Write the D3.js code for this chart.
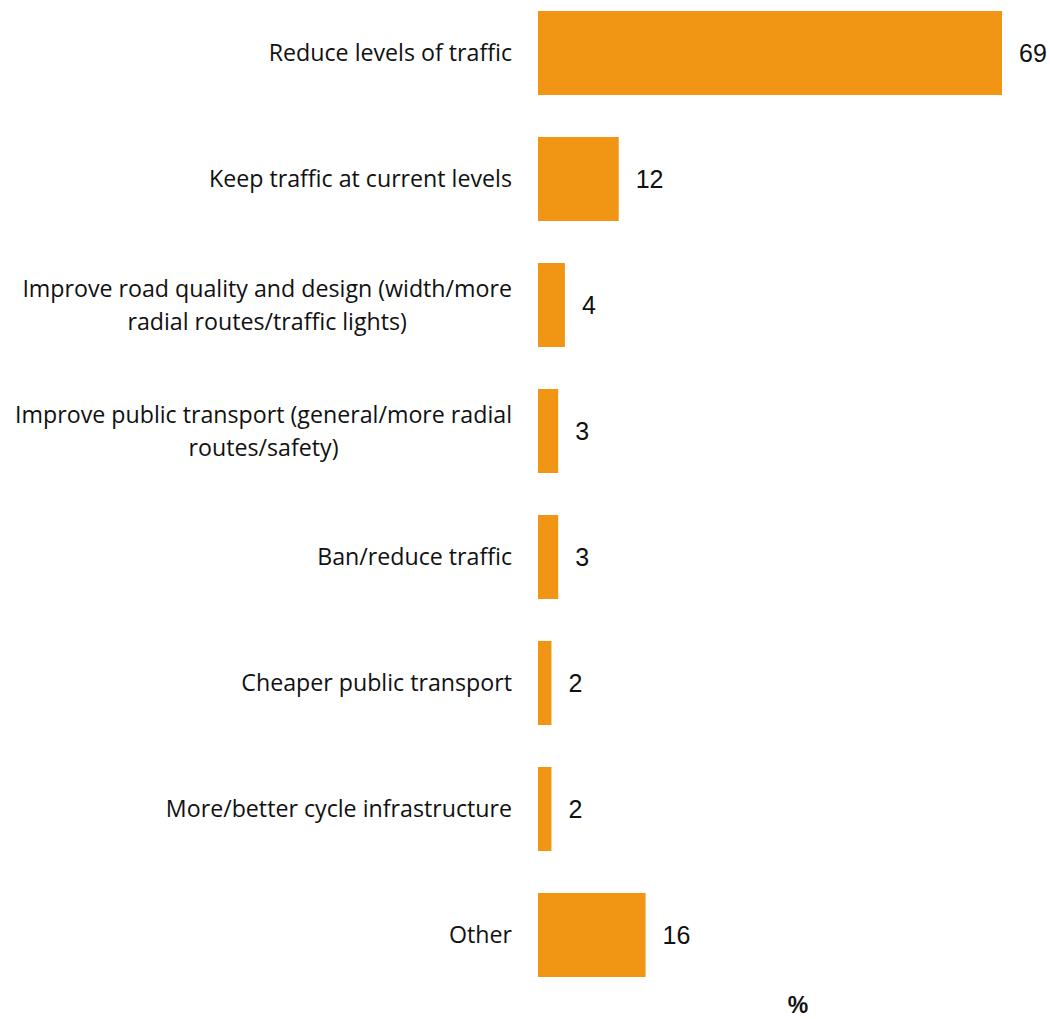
<!DOCTYPE html>
<html>
<head>
<meta charset="utf-8">
<script src="https://cdn.jsdelivr.net/npm/d3@7"></script>
<style>
  html, body { margin: 0; padding: 0; background: #fff; }
  svg { display: block; }
</style>
</head>
<body>
<svg id="chart" width="1050" height="1019"></svg>
<script>
// Survey answers (each category may span several lines)
const categories = [
  ["Reduce levels of traffic"],
  ["Keep traffic at current levels"],
  ["Improve road quality and design (width/more", "radial routes/traffic lights)"],
  ["Improve public transport (general/more radial", "routes/safety)"],
  ["Ban/reduce traffic"],
  ["Cheaper public transport"],
  ["More/better cycle infrastructure"],
  ["Other"]
];
const values = [69, 12, 4, 3, 3, 2, 2, 16];
const unitLabel = "%";

const svg = d3.select("#chart");
const barColor = "#F09614";
const labelFont = "'Open Sans', sans-serif";
const valueFont = "'Liberation Sans', Arial, sans-serif";

const x = d3.scaleLinear().domain([0, 69]).range([538, 1002]);
const y = d3.scaleBand()
  .domain(d3.range(categories.length))
  .range([-10, 998])
  .paddingInner(1 / 3)
  .paddingOuter(1 / 6);

// Bars
svg.append("g").selectAll("rect")
  .data(values)
  .join("rect")
  .attr("x", x(0))
  .attr("y", (d, i) => y(i))
  .attr("width", d => x(d) - x(0))
  .attr("height", y.bandwidth())
  .attr("fill", barColor);

// Value labels
svg.append("g").selectAll("text")
  .data(values)
  .join("text")
  .attr("x", d => x(d) + 17)
  .attr("y", (d, i) => y(i) + y.bandwidth() / 2)
  .attr("dy", "0.36em")
  .attr("font-family", valueFont)
  .attr("font-size", 25)
  .attr("fill", "#111")
  .text(d => d);

// Category labels: right edge at 512, multi-line blocks centred on their widest line
const labelRight = 512;
const lineGap = 33;
const catG = svg.append("g");
categories.forEach((lines, i) => {
  const cy = y(i) + y.bandwidth() / 2;
  const g = catG.append("g");
  const texts = lines.map((ln, k) => g.append("text")
    .attr("font-family", labelFont)
    .attr("font-size", 23.2)
    .attr("fill", "#111")
    .attr("dy", "0.35em")
    .attr("y", cy + (k - (lines.length - 1) / 2) * lineGap)
    .text(ln));
  const widths = texts.map(t => t.node().getComputedTextLength());
  const maxW = d3.max(widths);
  const center = labelRight - maxW / 2;
  texts.forEach(t => t.attr("text-anchor", "middle").attr("x", center));
});

// Unit label under the bars
svg.append("text")
  .attr("x", 798)
  .attr("y", 1013)
  .attr("text-anchor", "middle")
  .attr("font-family", valueFont)
  .attr("font-weight", "bold")
  .attr("font-size", 23)
  .attr("fill", "#111")
  .text(unitLabel);
</script>
</body>
</html>
